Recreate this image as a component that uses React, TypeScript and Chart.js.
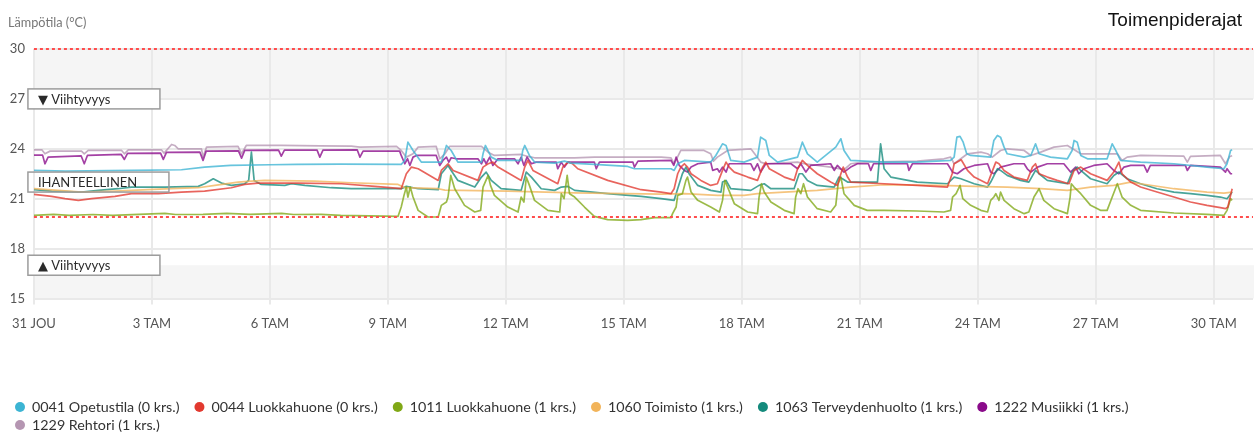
import React, { useEffect, useRef } from 'react';
import { Chart, registerables } from 'chart.js';

Chart.register(...registerables);

type Pt = [number, number];

// x = days since 31 Dec (0 = 31 JOU), y = temperature °C
const xTickDays = [0, 3, 6, 9, 12, 15, 18, 21, 24, 27, 30];
const xTickLabels = ['31 JOU', '3 TAM', '6 TAM', '9 TAM', '12 TAM', '15 TAM', '18 TAM', '21 TAM', '24 TAM', '27 TAM', '30 TAM'];
const yTickValues = [15, 18, 21, 24, 27, 30];
const xRange = [0, 31];
const yRange = [15, 30];

const seriesLabels = [
  '0041 Opetustila (0 krs.)',
  '0044 Luokkahuone (0 krs.)',
  '1011 Luokkahuone (1 krs.)',
  '1060 Toimisto (1 krs.)',
  '1063 Terveydenhuolto (1 krs.)',
  '1222 Musiikki (1 krs.)',
  '1229 Rehtori (1 krs.)',
];
const seriesColors = ['#3cb4d3', '#e2392f', '#80a816', '#f2b45a', '#148a7c', '#8a0a8a', '#b596b2'];

const actionLimits = [30, 19.9];
const comfortAboveLevel = 27;
const comfortBelowLevel = 17;
const idealLevel = 22;

const s0041: Pt[] = [
  [0, 22.7], [0.8, 22.66], [2.5, 22.7], [3.75, 22.74], [4.34, 22.9], [5.0, 23.0], [6.0, 23.04], [6.7, 23.06], [7.8, 23.08],
  [9.34, 23.06], [9.43, 23.3], [9.51, 24.4], [9.64, 23.9], [9.85, 23.2], [10.36, 23.2], [10.43, 23.7], [10.49, 24.2], [10.61, 23.9],
  [10.78, 23.2], [11.38, 23.2], [11.42, 23.7], [11.48, 24.2], [11.63, 23.5], [11.8, 23.3], [12.39, 23.3], [12.43, 23.9], [12.48, 24.2],
  [12.6, 23.6], [12.73, 23.2], [13.24, 23.14], [13.49, 23.26], [13.66, 23.14], [14.25, 23.06], [15.1, 22.94], [15.27, 22.8], [16.2, 22.8],
  [16.28, 22.7], [16.37, 23.1], [16.54, 23.3], [17.21, 23.2], [17.34, 23.6], [17.51, 24.3], [17.6, 24.2], [17.72, 23.3], [18.06, 23.2],
  [18.4, 23.5], [18.48, 24.7], [18.61, 24.5], [18.7, 23.6], [18.91, 23.2], [19.42, 23.5], [19.54, 24.4], [19.67, 23.7], [19.92, 23.2],
  [20.39, 24.1], [20.52, 24.6], [20.6, 23.9], [20.77, 23.3], [21.62, 23.2], [22.46, 23.2], [23.31, 23.3], [23.4, 23.5], [23.47, 24.7],
  [23.55, 24.75], [23.63, 24.4], [23.72, 23.7], [23.82, 23.6], [24.33, 23.5], [24.41, 24.5], [24.5, 24.8], [24.58, 24.7], [24.67, 24.1],
  [24.75, 23.7], [25.18, 23.5], [25.35, 23.6], [25.47, 24.3], [25.56, 23.7], [25.85, 23.5], [26.28, 23.4], [26.4, 23.9], [26.45, 24.5],
  [26.53, 24.4], [26.62, 23.6], [26.79, 23.4], [27.29, 23.4], [27.42, 24.3], [27.51, 23.9], [27.63, 23.3], [28.14, 23.2], [28.99, 23.1],
  [29.83, 22.9], [30.26, 22.8], [30.34, 23.1], [30.43, 23.9], [30.47, 23.94],
];

const s0044: Pt[] = [
  [0, 21.26], [0.45, 21.14], [0.79, 21.0], [1.13, 20.9], [1.47, 21.0], [2.06, 21.14], [2.48, 21.3], [3.16, 21.3], [3.75, 21.4],
  [4.34, 21.46], [5.02, 21.66], [5.36, 21.86], [5.7, 21.94], [6.72, 21.94], [7.82, 21.9], [8.67, 21.74], [9.34, 21.6], [9.47, 22.5],
  [9.6, 22.9], [9.77, 22.8], [10.28, 22.1], [10.36, 22.7], [10.53, 23.1], [10.66, 22.7], [11.29, 22.1], [11.42, 22.9], [11.55, 23.1],
  [11.67, 23.2], [11.8, 22.9], [12.39, 22.1], [12.48, 22.9], [12.56, 23.3], [12.69, 22.7], [13.32, 21.9], [13.45, 22.9], [13.58, 23.2],
  [13.7, 23.1], [13.83, 22.8], [14.59, 22.1], [15.44, 21.54], [15.95, 21.4], [16.2, 21.3], [16.28, 21.6], [16.37, 22.5], [16.45, 22.9],
  [16.54, 23.1], [16.62, 22.9], [16.71, 22.5], [16.96, 22.1], [17.21, 21.8], [17.38, 21.9], [17.51, 22.7], [17.6, 23.2], [17.68, 22.9],
  [17.81, 22.6], [18.15, 22.3], [18.4, 22.1], [18.53, 22.9], [18.61, 23.2], [18.7, 22.8], [19.08, 22.3], [19.33, 22.1], [19.42, 22.8],
  [19.54, 23.3], [19.67, 23.0], [19.92, 22.5], [20.26, 22.0], [20.43, 21.8], [20.52, 22.5], [20.58, 22.9], [20.69, 22.3], [20.77, 22.0],
  [21.62, 21.9], [22.46, 21.8], [23.23, 21.7], [23.35, 22.5], [23.4, 23.1], [23.58, 23.34], [23.74, 22.7], [23.91, 22.3], [24.25, 21.9],
  [24.33, 22.4], [24.46, 23.2], [24.54, 23.1], [24.67, 22.7], [24.92, 22.3], [25.26, 22.1], [25.39, 22.9], [25.47, 23.1], [25.56, 22.5],
  [25.77, 22.3], [26.02, 22.1], [26.32, 21.9], [26.45, 22.7], [26.62, 22.9], [26.87, 22.5], [27.29, 22.1], [27.46, 22.6], [27.59, 23.2],
  [27.67, 22.5], [27.89, 22.0], [28.14, 21.7], [28.56, 21.4], [28.99, 21.1], [29.41, 20.8], [29.83, 20.6], [30.17, 20.46], [30.3, 20.4],
  [30.36, 20.5], [30.43, 21.2], [30.47, 21.6],
];

const s1011: Pt[] = [
  [0, 20.0], [0.5, 20.06], [0.9, 20.0], [1.5, 20.05], [2.0, 20.0], [2.5, 20.04], [3.33, 20.12], [3.6, 20.05], [4.3, 20.06], [4.9, 20.12],
  [5.5, 20.06], [6.3, 20.12], [6.6, 20.05], [7.3, 20.06], [7.8, 20.0], [9.26, 19.94], [9.34, 20.5], [9.41, 21.2], [9.47, 21.7], [9.51, 21.1],
  [9.57, 21.7], [9.64, 21.1], [9.77, 20.3], [10.02, 19.9], [10.28, 19.9], [10.36, 20.6], [10.49, 20.8], [10.53, 21.1], [10.6, 22.4],
  [10.7, 21.6], [10.95, 20.6], [11.21, 20.2], [11.36, 20.3], [11.42, 21.7], [11.55, 22.4], [11.61, 21.8], [11.71, 21.2], [12.05, 20.5],
  [12.31, 20.2], [12.39, 21.1], [12.46, 20.8], [12.52, 22.3], [12.6, 21.8], [12.73, 20.9], [13.07, 20.3], [13.37, 20.2], [13.41, 21.3],
  [13.48, 21.0], [13.56, 22.4], [13.62, 21.3], [13.75, 21.1], [14.0, 20.5], [14.25, 19.94], [14.59, 19.74], [15.1, 19.7], [15.44, 19.74],
  [15.78, 19.86], [16.2, 19.86], [16.24, 20.1], [16.33, 20.5], [16.37, 21.2], [16.49, 21.3], [16.58, 22.1], [16.62, 22.3], [16.71, 21.4],
  [16.88, 20.9], [17.21, 20.5], [17.43, 20.2], [17.51, 20.9], [17.57, 22.1], [17.64, 21.7], [17.81, 20.7], [18.15, 20.2], [18.4, 20.1],
  [18.44, 21.1], [18.5, 21.9], [18.57, 21.4], [18.74, 20.8], [19.08, 20.3], [19.33, 20.1], [19.37, 21.1], [19.43, 21.6], [19.5, 21.3],
  [19.57, 21.9], [19.67, 21.1], [19.92, 20.4], [20.26, 20.2], [20.39, 20.6], [20.45, 21.9], [20.52, 22.3], [20.6, 21.3], [20.86, 20.6],
  [21.19, 20.3], [21.62, 20.3], [22.46, 20.26], [23.14, 20.2], [23.31, 20.3], [23.36, 21.1], [23.45, 21.3], [23.55, 21.8], [23.62, 21.0],
  [23.82, 20.6], [24.08, 20.3], [24.25, 20.2], [24.33, 20.9], [24.41, 21.1], [24.46, 21.3], [24.54, 20.9], [24.58, 21.4], [24.67, 20.9],
  [24.92, 20.4], [25.18, 20.1], [25.3, 20.2], [25.43, 21.1], [25.56, 21.6], [25.68, 20.9], [25.94, 20.4], [26.28, 20.1], [26.35, 21.1],
  [26.38, 21.9], [26.45, 21.7], [26.62, 21.3], [26.87, 20.6], [27.12, 20.3], [27.29, 20.3], [27.42, 21.1], [27.55, 21.9], [27.67, 21.1],
  [27.89, 20.6], [28.14, 20.3], [28.99, 20.14], [29.83, 20.06], [30.26, 20.0], [30.34, 20.3], [30.43, 21.0], [30.47, 20.9],
];

const s1060: Pt[] = [
  [0, 21.6], [0.62, 21.5], [1.21, 21.4], [2.06, 21.46], [2.9, 21.54], [3.5, 21.6], [4.18, 21.66], [4.6, 21.8], [5.19, 22.0], [5.53, 22.06],
  [5.87, 22.1], [7.14, 22.06], [8.07, 21.96], [9.26, 21.86], [9.43, 21.66], [10.28, 21.6], [10.45, 21.52], [12.05, 21.45], [13.75, 21.35],
  [15.95, 21.28], [16.54, 21.3], [17.38, 21.2], [18.06, 21.2], [18.4, 21.3], [19.08, 21.4], [19.92, 21.5], [20.77, 21.7], [21.62, 21.84],
  [23.06, 21.8], [23.91, 21.74], [24.75, 21.7], [25.6, 21.6], [26.28, 21.5], [26.87, 21.7], [27.46, 21.8], [27.89, 22.0], [28.14, 21.9],
  [28.99, 21.6], [29.83, 21.4], [30.26, 21.34], [30.47, 21.4],
];

const s1063: Pt[] = [
  [0, 21.54], [0.45, 21.46], [1.21, 21.4], [1.64, 21.5], [2.14, 21.6], [2.48, 21.7], [3.33, 21.7], [4.18, 21.74], [4.34, 21.9], [4.56, 22.2],
  [4.77, 21.94], [5.02, 21.8], [5.36, 21.9], [5.46, 22.1], [5.53, 23.8], [5.6, 22.1], [5.78, 21.86], [6.38, 21.8], [6.55, 21.9], [6.89, 21.8],
  [7.56, 21.66], [8.07, 21.6], [9.34, 21.6], [9.47, 21.74], [9.77, 21.6], [10.28, 21.54], [10.36, 22.5], [10.53, 23.0], [10.61, 22.7],
  [10.78, 22.1], [11.21, 21.7], [11.38, 22.3], [11.5, 22.6], [11.63, 22.1], [11.88, 21.6], [12.39, 21.5], [12.52, 22.6], [12.65, 22.3],
  [12.9, 21.6], [13.24, 21.5], [13.41, 21.7], [13.58, 21.74], [13.75, 21.5], [14.59, 21.3], [15.44, 21.14], [15.95, 21.0], [16.28, 20.9],
  [16.37, 21.6], [16.49, 22.5], [16.58, 22.9], [16.66, 22.5], [16.88, 21.8], [17.21, 21.5], [17.47, 21.4], [17.51, 22.0], [17.6, 22.1],
  [17.72, 21.6], [18.23, 21.5], [18.44, 21.8], [18.57, 21.9], [18.74, 21.6], [19.33, 21.6], [19.46, 22.5], [19.54, 22.5], [19.67, 22.1],
  [19.92, 21.8], [20.35, 21.7], [20.47, 22.3], [20.56, 22.2], [20.69, 22.0], [21.45, 22.0], [21.53, 24.3], [21.62, 22.8], [21.79, 22.3],
  [22.46, 22.0], [23.23, 21.9], [23.4, 22.3], [23.57, 22.2], [23.91, 21.9], [24.25, 21.7], [24.33, 22.0], [24.5, 22.8], [24.58, 22.7],
  [24.75, 22.4], [25.09, 22.1], [25.3, 22.0], [25.47, 22.7], [25.56, 22.5], [25.77, 22.1], [26.28, 21.9], [26.4, 22.6], [26.53, 22.9],
  [26.62, 22.7], [26.87, 22.2], [27.29, 21.9], [27.46, 22.4], [27.59, 22.6], [27.8, 22.2], [28.14, 21.9], [28.56, 21.6], [28.99, 21.4],
  [29.41, 21.3], [29.83, 21.2], [30.17, 21.1], [30.34, 21.0], [30.47, 21.4],
];

const s1222: Pt[] = [
  [0, 23.62], [0.22, 23.62], [0.28, 23.1], [0.36, 23.5], [1.2, 23.58], [1.28, 23.1], [1.36, 23.6], [2.22, 23.66], [2.3, 23.36], [2.38, 23.72],
  [3.22, 23.74], [3.29, 23.36], [3.37, 23.78], [4.22, 23.8], [4.3, 23.3], [4.38, 23.86], [5.2, 23.88], [5.28, 23.44], [5.36, 23.9],
  [6.22, 23.92], [6.29, 23.56], [6.37, 23.92], [7.2, 23.92], [7.27, 23.5], [7.35, 23.92], [8.22, 23.94], [8.29, 23.5], [8.37, 23.86],
  [9.3, 23.86], [9.34, 23.6], [9.43, 23.1], [9.5, 23.4], [9.56, 23.0], [9.64, 23.5], [9.73, 23.6], [10.23, 23.6], [10.32, 23.0], [10.4, 23.3],
  [10.49, 23.5], [10.55, 23.2], [10.61, 23.46], [10.74, 23.4], [11.29, 23.4], [11.38, 23.1], [11.44, 23.4], [11.5, 23.1], [11.59, 23.5],
  [11.67, 23.0], [11.8, 23.4], [12.22, 23.4], [12.31, 23.1], [12.39, 23.5], [12.46, 23.0], [12.54, 23.5], [12.65, 23.1], [12.77, 23.2],
  [13.28, 23.2], [13.32, 22.8], [13.41, 23.2], [13.49, 22.9], [13.58, 23.2], [14.25, 23.2], [14.3, 22.8], [14.38, 23.2], [15.23, 23.2],
  [15.27, 22.9], [15.36, 23.26], [16.2, 23.3], [16.27, 23.0], [16.33, 23.5], [16.41, 23.0], [16.54, 22.7], [16.62, 22.6], [16.71, 22.9],
  [16.88, 23.1], [17.21, 23.2], [17.26, 22.7], [17.38, 22.8], [17.43, 22.6], [17.51, 22.9], [17.6, 22.6], [17.68, 23.1], [18.23, 23.1],
  [18.31, 22.7], [18.4, 23.1], [18.48, 22.6], [18.61, 23.1], [19.25, 23.1], [19.42, 22.8], [19.5, 23.1], [19.63, 22.6], [19.75, 23.0],
  [20.26, 23.1], [20.35, 22.7], [20.43, 23.0], [20.6, 22.6], [20.77, 22.9], [20.94, 23.1], [21.22, 23.1], [21.28, 22.7], [21.35, 23.1],
  [22.21, 23.1], [22.25, 22.7], [22.34, 23.1], [23.23, 23.1], [23.36, 22.6], [23.48, 22.5], [23.65, 22.8], [23.91, 23.0], [24.25, 23.1],
  [24.33, 22.6], [24.41, 22.5], [24.58, 22.9], [24.92, 23.1], [25.18, 23.1], [25.26, 22.8], [25.35, 22.6], [25.52, 22.9], [25.77, 23.1],
  [26.19, 23.1], [26.36, 22.6], [26.49, 22.9], [26.57, 22.5], [26.7, 22.8], [26.95, 23.0], [27.29, 23.1], [27.46, 22.7], [27.59, 22.5],
  [27.72, 22.9], [27.89, 23.0], [28.23, 23.0], [28.31, 22.6], [28.39, 23.0], [29.28, 23.0], [29.33, 22.7], [29.41, 23.0], [30.17, 22.9],
  [30.3, 22.6], [30.34, 22.8], [30.43, 22.5], [30.47, 22.5],
];

const s1229: Pt[] = [
  [0, 23.94], [0.2, 23.94], [0.28, 23.7], [0.41, 23.86], [1.21, 23.86], [1.28, 23.7], [1.38, 23.9], [2.23, 23.9], [2.3, 23.7], [2.4, 23.94],
  [3.24, 23.94], [3.31, 23.74], [3.5, 24.26], [3.58, 24.2], [3.67, 24.0], [4.26, 24.0], [4.3, 23.5], [4.39, 24.1], [5.19, 24.14], [5.28, 23.7],
  [5.4, 24.2], [6.29, 24.2], [7.27, 24.18], [8.07, 24.16], [8.29, 24.1], [9.22, 24.14], [9.34, 23.9], [9.47, 23.5], [9.64, 23.7], [9.77, 24.1],
  [10.23, 24.14], [10.32, 23.4], [10.45, 23.7], [10.57, 24.14], [11.38, 24.14], [11.55, 23.8], [11.71, 23.6], [12.39, 23.66], [12.56, 23.54],
  [12.73, 23.46], [13.75, 23.46], [14.25, 23.5], [15.95, 23.5], [16.2, 23.45], [16.28, 23.1], [16.45, 23.9], [17.04, 23.9], [17.21, 23.7],
  [17.28, 23.26], [17.38, 23.5], [17.64, 23.9], [18.23, 24.0], [18.36, 23.6], [18.48, 23.2], [18.61, 23.1], [19.42, 23.2], [19.59, 23.1],
  [20.26, 22.9], [20.6, 22.74], [20.77, 23.1], [21.11, 23.2], [22.46, 23.26], [23.14, 23.4], [23.31, 23.5], [23.4, 23.1], [23.57, 23.4],
  [23.74, 23.7], [24.08, 23.8], [24.25, 23.7], [24.37, 23.5], [24.58, 23.9], [24.75, 24.0], [25.18, 23.9], [25.35, 23.6], [25.6, 23.8],
  [25.94, 24.1], [26.28, 24.2], [26.62, 23.7], [27.55, 23.7], [27.67, 23.3], [27.8, 23.5], [28.14, 23.6], [29.24, 23.56], [29.33, 23.2],
  [29.41, 23.54], [30.17, 23.6], [30.3, 23.1], [30.41, 23.54], [30.47, 23.58],
];

const seriesData: Pt[][] = [s0041, s0044, s1011, s1060, s1063, s1222, s1229];

function withAlpha(hex: string, a: number) {
  const n = parseInt(hex.slice(1), 16);
  return `rgba(${(n >> 16) & 255},${(n >> 8) & 255},${n & 255},${a})`;
}

const bandsPlugin = {
  id: 'bands',
  beforeDraw(chart: any) {
    const { ctx, chartArea, scales } = chart;
    const y = scales.y;
    ctx.save();
    ctx.fillStyle = '#f5f5f5';
    const t1 = y.getPixelForValue(yRange[1]);
    const b1 = y.getPixelForValue(comfortAboveLevel);
    ctx.fillRect(chartArea.left, t1, chartArea.right - chartArea.left + 2, b1 - t1);
    const t2 = y.getPixelForValue(comfortBelowLevel);
    const b2 = y.getPixelForValue(yRange[0]);
    ctx.fillRect(chartArea.left, t2, chartArea.right - chartArea.left + 2, b2 - t2);
    ctx.restore();
  },
};

function drawBox(ctx: any, left: number, right: number, cy: number, text: string, fill: boolean) {
  const h = 20;
  ctx.save();
  if (fill) {
    ctx.fillStyle = '#ffffff';
    ctx.fillRect(left, cy - h / 2, right - left, h);
  }
  ctx.strokeStyle = '#9c9c9c';
  ctx.lineWidth = 1.5;
  ctx.strokeRect(left, cy - h / 2, right - left, h);
  ctx.fillStyle = '#2a2a2a';
  ctx.font = '13px Lato, "DejaVu Sans", sans-serif';
  ctx.textBaseline = 'middle';
  ctx.textAlign = 'left';
  ctx.fillText(text, left + 10, cy + 1);
  ctx.restore();
}

const notesPlugin = {
  id: 'notes',
  afterDatasetsDraw(chart: any) {
    const { ctx, chartArea, scales } = chart;
    const y = scales.y;
    const left = chartArea.left - 6;
    drawBox(ctx, left, left + 132, y.getPixelForValue(comfortAboveLevel), '\u25BC Viihtyvyys', true);
    drawBox(ctx, left, left + 132, y.getPixelForValue(comfortBelowLevel), '\u25B2 Viihtyvyys', true);
    drawBox(ctx, left, left + 141, y.getPixelForValue(idealLevel), 'IHANTEELLINEN', false);
  },
  afterDraw(chart: any) {
    const { ctx, width } = chart;
    ctx.save();
    ctx.textBaseline = 'middle';
    ctx.textAlign = 'left';
    ctx.fillStyle = '#777777';
    ctx.font = '12.7px Lato, sans-serif';
    ctx.fillText('Lämpötila (°C)', 8, 23);
    ctx.textAlign = 'right';
    ctx.fillStyle = '#111111';
    ctx.font = '19px "Liberation Sans", Arial, sans-serif';
    ctx.fillText('Toimenpiderajat', width - 12, 21);

    // legend
    ctx.textAlign = 'left';
    ctx.font = '14.3px Lato, sans-serif';
    let cx = 20;
    let cy = 407;
    seriesLabels.forEach((label, i) => {
      const w = ctx.measureText(label).width;
      if (cx + 12 + w > width - 6) {
        cx = 20;
        cy += 18;
      }
      ctx.fillStyle = seriesColors[i];
      ctx.beginPath();
      ctx.arc(cx, cy, 5, 0, Math.PI * 2);
      ctx.fill();
      ctx.fillStyle = '#333333';
      ctx.fillText(label, cx + 12, cy);
      cx = cx + 12 + w + 20;
    });
    ctx.restore();
  },
};

export default function App() {
  const ref = useRef<HTMLCanvasElement>(null);

  useEffect(() => {
    if (!ref.current) return;
    const datasets: any[] = seriesLabels.map((label, i) => ({
      label,
      data: seriesData[i].map(([x, y]) => ({ x, y })),
      borderColor: withAlpha(seriesColors[i], 0.78),
      backgroundColor: seriesColors[i],
      borderWidth: 1.7,
      pointRadius: 0,
      tension: 0,
      borderJoinStyle: 'round',
      fill: false,
    }));
    actionLimits.forEach((v) => {
      datasets.push({
        label: 'Toimenpideraja',
        data: [{ x: xRange[0], y: v }, { x: xRange[1], y: v }],
        borderColor: '#ff4d4d',
        borderDash: [3, 3],
        borderWidth: 2,
        pointRadius: 0,
        fill: false,
        clip: false,
        order: -1,
      });
    });

    const chart = new Chart(ref.current, {
      type: 'line',
      data: { datasets },
      options: {
        animation: false,
        responsive: false,
        devicePixelRatio: 1,
        layout: { padding: { left: 8, top: 49, right: 1, bottom: 99.5 } },
        plugins: {
          legend: { display: false },
          tooltip: { enabled: false },
          title: { display: false },
        },
        scales: {
          x: {
            type: 'linear',
            min: xRange[0],
            max: xRange[1],
            afterBuildTicks: (axis: any) => {
              axis.ticks = xTickDays.map((v) => ({ value: v }));
            },
            afterFit: (s: any) => {
              s.height = 34;
            },
            grid: { color: '#e9e9e9', lineWidth: 2, tickLength: 6, drawTicks: true },
            border: { display: false },
            ticks: {
              autoSkip: false,
              maxRotation: 0,
              padding: 12,
              color: '#555555',
              font: { family: 'Lato, sans-serif', size: 13 },
              callback: (v: any) => {
                const i = xTickDays.indexOf(Number(v));
                return i >= 0 ? xTickLabels[i] : '';
              },
            },
          },
          y: {
            type: 'linear',
            min: yRange[0],
            max: yRange[1],
            afterBuildTicks: (axis: any) => {
              axis.ticks = yTickValues.map((v) => ({ value: v }));
            },
            afterFit: (s: any) => {
              s.width = 24;
            },
            grid: { color: '#e9e9e9', lineWidth: 2, drawTicks: false },
            border: { display: false },
            ticks: {
              padding: 9,
              color: '#555555',
              font: { family: 'Lato, sans-serif', size: 13 },
            },
          },
        },
      },
      plugins: [bandsPlugin, notesPlugin],
    } as any);

    return () => chart.destroy();
  }, []);

  return (
    <div style={{ position: 'absolute', left: 0, top: 0, width: 1254, height: 432, background: '#ffffff' }}>
      <canvas ref={ref} width={1254} height={432} style={{ display: 'block', width: 1254, height: 432 }} />
    </div>
  );
}
